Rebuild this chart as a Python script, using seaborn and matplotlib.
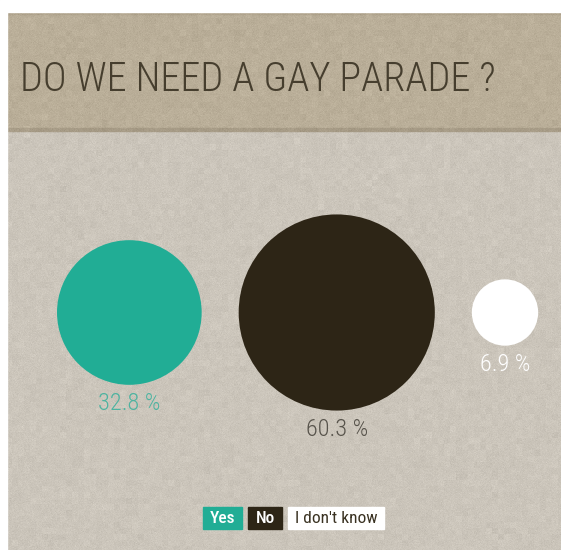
import numpy as np
import pandas as pd
import matplotlib
matplotlib.use("Agg")
import matplotlib.pyplot as plt
from matplotlib.patches import Rectangle
import seaborn as sns

# Survey answers
answers = ["Yes", "No", "I don't know"]
shares = [32.8, 60.3, 6.9]
labels = ["32.8 %", "60.3 %", "6.9 %"]
title = "DO WE NEED A GAY PARADE ?"

fill_colors = {"Yes": "#21ad95", "No": "#2d2516", "I don't know": "#ffffff"}
label_colors = ["#4db3a0", "#57534b", "#ffffff"]
legend_text_colors = ["#ffffff", "#ffffff", "#3a3222"]

sns.set_theme(style="white")
light_families = ["Open Sans Condensed Light", "Roboto Condensed",
                  "Open Sans Condensed", "Liberation Sans Narrow", "DejaVu Sans"]
plt.rcParams["font.family"] = light_families

W, H, DPI = 561, 550, 100
fig = plt.figure(figsize=(W / DPI, H / DPI), dpi=DPI, facecolor="white")
ax = fig.add_axes([0, 0, 1, 1])
ax.set_xlim(0, W)
ax.set_ylim(H, 0)
ax.axis("off")

# paper panel and header band
px0, py0 = 7, 12
ax.add_patch(Rectangle((px0, py0), W - px0, H - py0, color="#d7d0c4", zorder=0))
ax.add_patch(Rectangle((px0, py0), W - px0, 118, color="#c3b69d", zorder=0.5))
ax.add_patch(Rectangle((px0, 128), W - px0, 3, color="#ada088", zorder=0.6))
ax.add_patch(Rectangle((px0, py0), W - px0, 2, color="#b8aa90", zorder=0.6))

# paper grain: fine speckle plus soft mottling
rng = np.random.default_rng(7)
fine = rng.normal(0, 1, (H, W))
coarse = rng.normal(0, 1, (H // 6 + 1, W // 6 + 1))
coarse = np.kron(coarse, np.ones((6, 6)))[:H, :W]
grain = fine + 0.6 * coarse
ax.imshow(grain, cmap="gray", extent=(0, W, H, 0), alpha=0.13,
          interpolation="bilinear", zorder=0.8, aspect="auto")
ax.add_patch(Rectangle((0, 0), px0, H, color="white", zorder=0.9))
ax.add_patch(Rectangle((0, 0), W, py0, color="white", zorder=0.9))

# bubble layout: area proportional to share, fixed gap between bubbles
k = 12.63          # px of radius per sqrt(percent)
gap = 37
left = 57
cy = 312.5
radii = [k * np.sqrt(v) for v in shares]
centers = []
x = left
for r in radii:
    centers.append(x + r)
    x += 2 * r + gap

df = pd.DataFrame({"answer": answers, "share": shares,
                   "x": centers, "y": [cy] * 3,
                   "s": [(2 * r * 72 / DPI) ** 2 for r in radii]})

sns.scatterplot(data=df, x="x", y="y", hue="answer", palette=fill_colors,
                s=df["s"].values, linewidth=0, legend=False, ax=ax, zorder=3)
ax.set_xlim(0, W)
ax.set_ylim(H, 0)
ax.axis("off")

for cx, r, lab, col in zip(centers, radii, labels, label_colors):
    ax.text(cx, cy + r + 19, lab, ha="center", va="center",
            fontsize=17.5, color=col, fontweight=300, zorder=4)

ax.text(20, 91, title, ha="left", va="baseline", fontsize=29,
        color="#463e2e", fontweight=300, zorder=4)

# legend chips
fig.canvas.draw()
renderer = fig.canvas.get_renderer()
inv = ax.transData.inverted()
lx = 203
pad = 7
for ans, tc in zip(answers, legend_text_colors):
    t = ax.text(lx + pad, 518.5, ans, ha="left", va="center", fontsize=12.5,
                color=tc, fontweight="medium" if ans != "I don't know" else "normal",
                zorder=6)
    bb = t.get_window_extent(renderer)
    (x0, _), (x1, _) = inv.transform([[bb.x0, bb.y0], [bb.x1, bb.y1]])
    wbox = (x1 - x0) + 2 * pad
    ax.add_patch(Rectangle((lx, 507), wbox, 22, color=fill_colors[ans], zorder=5))
    lx += wbox + 6

fig.savefig("out.png", dpi=DPI, facecolor="white")
